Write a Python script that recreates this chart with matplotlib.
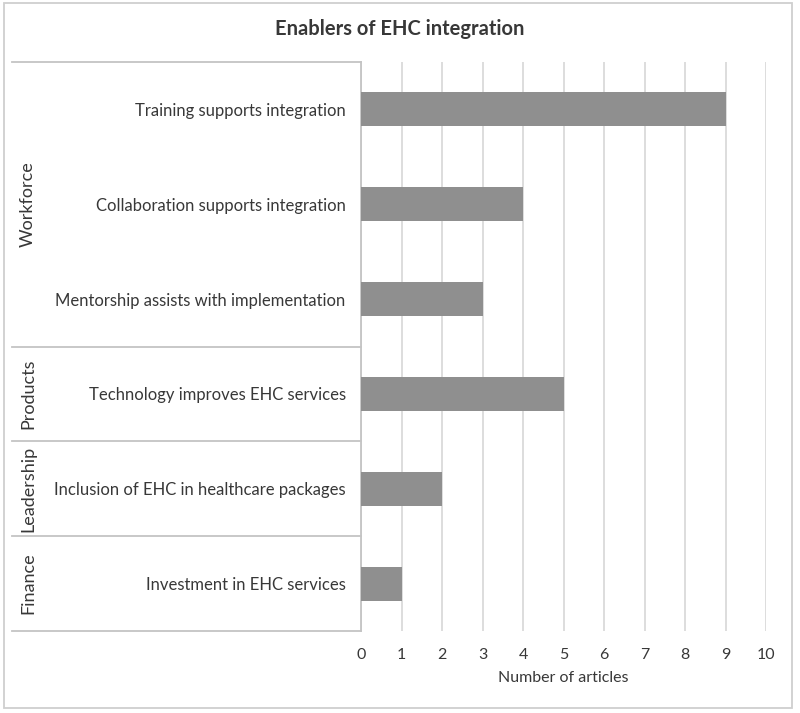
import matplotlib

matplotlib.use("Agg")
import matplotlib.pyplot as plt
from matplotlib.patches import Rectangle
from matplotlib.transforms import blended_transform_factory

categories = [
    "Training supports integration",
    "Collaboration supports integration",
    "Mentorship assists with implementation",
    "Technology improves EHC services",
    "Inclusion of EHC in healthcare packages",
    "Investment in EHC services",
]
articles = [9, 4, 3, 5, 2, 1]
groups = ["Workforce", "Products", "Leadership", "Finance"]
group_sizes = [3, 1, 1, 1]
xticks = list(range(0, 11))

W, H = 800, 713
plt.rcParams["font.family"] = ["Lato", "DejaVu Sans"]
TEXT = "#383838"

fig = plt.figure(figsize=(W / 100, H / 100), dpi=100)
ax = fig.add_axes([361 / W, 1 - 631 / H, (766 - 361) / W, (631 - 62) / H])

y = list(range(len(categories)))
ax.barh(y, articles, height=0.36, color="#8f8f8f", zorder=3)
ax.set_xlim(0, 10)
ax.set_ylim(len(categories) - 0.5, -0.5)

ax.set_xticks(xticks)
ax.set_xticklabels([str(t) for t in xticks], fontsize=11.5, color=TEXT)
ax.tick_params(axis="x", length=0, pad=12)
ax.set_yticks(y)
ax.set_yticklabels(categories, fontsize=12, color=TEXT)
ax.tick_params(axis="y", length=0, pad=11)
ax.grid(True, axis="x", color="#d3d3d3", linewidth=1.1, zorder=0)
for side in ["top", "right", "bottom"]:
    ax.spines[side].set_visible(False)
ax.spines["left"].set_color("#c4c4c4")
ax.spines["left"].set_linewidth(1.3)
ax.set_xlabel("Number of articles", fontsize=11.5, color=TEXT, labelpad=7)

# group separators and labels on the left
trans = blended_transform_factory(fig.transFigure, ax.transData)
x0, x1 = 12 / W, 361 / W
start = -0.5
ax.plot([x0, x1], [start, start], transform=trans, color="#c4c4c4",
        linewidth=1.3, clip_on=False)
for name, size in zip(groups, group_sizes):
    end = start + size
    ax.plot([x0, x1], [end, end], transform=trans, color="#c4c4c4",
            linewidth=1.3, clip_on=False)
    ax.text(28 / W, (start + end) / 2, name, transform=trans, rotation=90,
            ha="center", va="center", fontsize=13, color=TEXT)
    start = end

fig.text(400 / W, 1 - 29 / H, "Enablers of EHC integration", ha="center",
         va="center", fontsize=14.5, fontweight="bold", color=TEXT)

fig.patches.append(Rectangle((4 / W, 1 - 708 / H), 788 / W, 705 / H,
                             transform=fig.transFigure, fill=False,
                             edgecolor="#cfcfcf", linewidth=1.3))

fig.savefig("out.png", dpi=100)
